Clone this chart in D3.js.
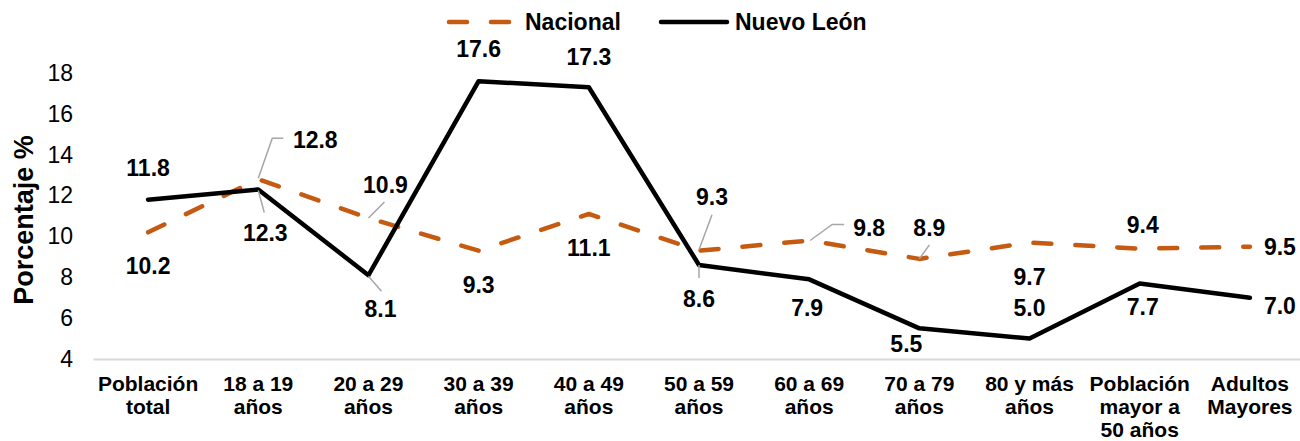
<!DOCTYPE html>
<html>
<head>
<meta charset="utf-8">
<script src="https://cdn.jsdelivr.net/npm/d3@7/dist/d3.min.js"></script>
<style>
  html, body { margin: 0; padding: 0; background: #fff; }
  svg text { font-family: Arial, "Liberation Sans", Helvetica, sans-serif; fill: #000; }
</style>
</head>
<body>
<svg id="chart" width="1300" height="441"></svg>
<script>
// ---- Data ----
const categories = [
  ["Población", "total"],
  ["18 a 19", "años"],
  ["20 a 29", "años"],
  ["30 a 39", "años"],
  ["40 a 49", "años"],
  ["50 a 59", "años"],
  ["60 a 69", "años"],
  ["70 a 79", "años"],
  ["80 y más", "años"],
  ["Población", "mayor a", "50 años"],
  ["Adultos", "Mayores"]
];
const nacional = [10.2, 12.8, 10.9, 9.3, 11.1, 9.3, 9.8, 8.9, 9.7, 9.4, 9.5];
const nuevoLeon = [11.8, 12.3, 8.1, 17.6, 17.3, 8.6, 7.9, 5.5, 5.0, 7.7, 7.0];
const yTicks = [4, 6, 8, 10, 12, 14, 16, 18];
const seriesNames = ["Nacional", "Nuevo León"];

// ---- Label layout (offsets of label centre from point, px) ----
const nacLabelOffsets = [[0,33],[57,-40],[17,-33],[0,34],[0,34],[13,-54],[60,-13],[10,-31],[0,34],[3,-24],[30,0]];
const nlLabelOffsets  = [[0,-32],[7,43],[12,33],[0,-32],[0,-31],[0,34],[-2,28],[-13,15],[0,-31],[3,23],[30,8]];
const nacLeaders = {1: [[0,-1],[14,-41],[25,-41]], 2: [[0,0],[16,-16]], 5: [[0,-1],[13,-36]], 6: [[1,0],[23,-16],[35,-16]], 7: [[0,0],[10,-14]]};
const nlLeaders  = {1: [[0,1],[6,23]], 2: [[0,1],[13,16]], 5: [[0,0],[0,13]]};

const svg = d3.select("#chart");
const x = d3.scaleBand().domain(d3.range(categories.length)).range([93, 1305]).padding(0);
const y = d3.scaleLinear().domain([4, 18]).range([359, 73]);
const cx = i => x(i) + x.bandwidth() / 2;

const orange = "#C55A11";

// Y axis (labels only)
const yAxis = d3.axisLeft(y).tickValues(yTicks).tickSize(0).tickPadding(0).tickFormat(d3.format("d"));
const yg = svg.append("g").attr("transform", "translate(73,0)").call(yAxis);
yg.select(".domain").remove();
yg.selectAll("text").attr("font-size", 23).attr("fill", "#000")
  .style("font-family", "Arial, 'Liberation Sans', sans-serif");

// X axis line + labels
const xAxis = d3.axisBottom(x).tickSize(0).tickFormat("");
const xg = svg.append("g").attr("transform", "translate(0,359)").call(xAxis);
xg.select(".domain").attr("stroke", "#D9D9D9").attr("stroke-width", 2);

const catG = svg.append("g");
categories.forEach((lines, i) => {
  const t = catG.append("text").attr("x", cx(i)).attr("y", 391)
    .attr("text-anchor", "middle").attr("font-size", 21).attr("font-weight", "bold");
  lines.forEach((ln, k) => {
    t.append("tspan").attr("x", cx(i)).attr("dy", k === 0 ? 0 : 23).text(ln);
  });
});

// Y title
svg.append("text")
  .attr("transform", "translate(33,220) rotate(-90)")
  .attr("text-anchor", "middle").attr("font-size", 27).attr("font-weight", "bold")
  .text("Porcentaje %");

// Lines
const line = d3.line().x((d, i) => cx(i)).y(d => y(d));
svg.append("path").datum(nacional).attr("d", line)
  .attr("fill", "none").attr("stroke", orange).attr("stroke-width", 4.5)
  .attr("stroke-dasharray", "18,24").attr("stroke-linecap", "round").attr("stroke-linejoin", "round");
svg.append("path").datum(nuevoLeon).attr("d", line)
  .attr("fill", "none").attr("stroke", "#000").attr("stroke-width", 4.5)
  .attr("stroke-linecap", "round").attr("stroke-linejoin", "round");

// Leaders + labels
function drawLabels(values, offsets, leaders) {
  const g = svg.append("g");
  values.forEach((v, i) => {
    const px = cx(i), py = y(v);
    if (leaders[i]) {
      g.append("polyline")
        .attr("points", leaders[i].map(p => (px + p[0]) + "," + (py + p[1])).join(" "))
        .attr("fill", "none").attr("stroke", "#A6A6A6").attr("stroke-width", 1.5);
    }
    g.append("text").attr("x", px + offsets[i][0]).attr("y", py + offsets[i][1])
      .attr("dy", "0.36em").attr("text-anchor", "middle")
      .attr("font-size", 23).attr("font-weight", "bold")
      .text(d3.format(".1f")(v));
  });
}
drawLabels(nacional, nacLabelOffsets, nacLeaders);
drawLabels(nuevoLeon, nlLabelOffsets, nlLeaders);

// Legend
const lg = svg.append("g");
lg.append("line").attr("x1", 449).attr("x2", 512).attr("y1", 22).attr("y2", 22)
  .attr("stroke", orange).attr("stroke-width", 4.5).attr("stroke-dasharray", "18,24")
  .attr("stroke-linecap", "round");
lg.append("text").attr("x", 525).attr("y", 22).attr("dy", "0.36em")
  .attr("font-size", 23).attr("font-weight", "bold").text(seriesNames[0]);
lg.append("line").attr("x1", 661).attr("x2", 727).attr("y1", 22).attr("y2", 22)
  .attr("stroke", "#000").attr("stroke-width", 4.5).attr("stroke-linecap", "round");
lg.append("text").attr("x", 735).attr("y", 22).attr("dy", "0.36em")
  .attr("font-size", 23).attr("font-weight", "bold").text(seriesNames[1]);
</script>
</body>
</html>
